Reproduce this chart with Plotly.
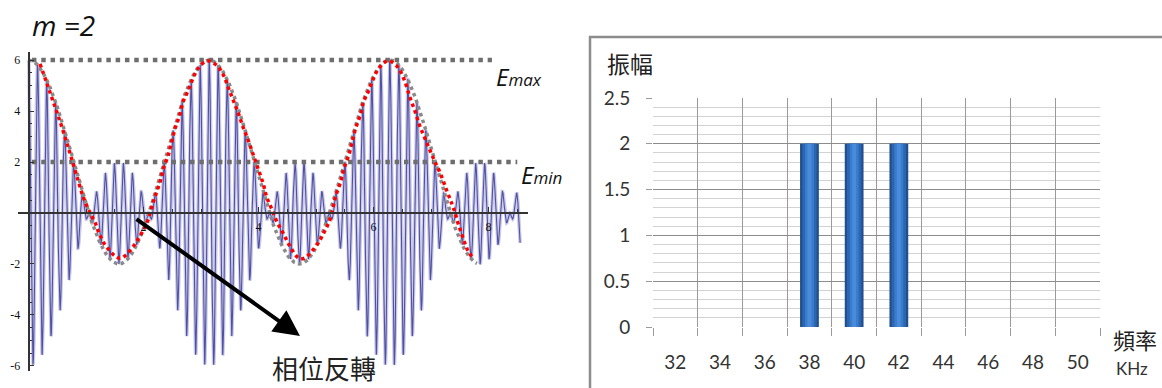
import numpy as np
import plotly.graph_objects as go

# ---------------- data ----------------
# spectrum (right chart)
freq_labels = ["32", "34", "36", "38", "40", "42", "44", "46", "48", "50"]
freq_khz = [32, 34, 36, 38, 40, 42, 44, 46, 48, 50]
amplitude = [0, 0, 0, 2, 2, 2, 0, 0, 0, 0]
amp_tickvals = [0, 0.5, 1, 1.5, 2, 2.5]
amp_ticktext = ["0", "0.5", "1", "1.5", "2", "2.5"]

# time waveform (left chart)
t_tickvals = [2, 4, 6, 8]
t_ticktext = ["2", "4", "6", "8"]
e_tickvals = [-6, -4, -2, 2, 4, 6]
e_ticktext = ["-6", "-4", "-2", "2", "4", "6"]
t_signal_end = 8.55
t_envelope_end = 7.80
E_max = 6
E_min = 2

# red dotted envelope sketch
red_t = [0.20, 0.31, 0.42, 0.54, 0.66, 0.74, 0.86, 0.95, 1.04, 1.10, 1.16, 1.21, 1.27, 1.33,
         1.42, 1.50, 1.59, 1.68, 1.77, 1.86, 1.94, 2.03, 2.08, 2.14, 2.20, 2.29, 2.34, 2.43,
         2.49, 2.55, 2.63, 2.69, 2.78, 2.86, 2.95, 3.10, 3.27, 3.39, 3.47, 3.56, 3.65, 3.73,
         3.82, 3.91, 3.99, 4.08, 4.14, 4.23, 4.32, 4.43, 4.55, 4.69, 4.75, 4.81, 4.90, 4.99,
         5.07, 5.13, 5.19, 5.24, 5.30, 5.34, 5.43, 5.48, 5.57, 5.63, 5.69, 5.77, 5.83, 5.92,
         6.00, 6.09, 6.25, 6.41, 6.53, 6.63, 6.72, 6.80, 6.89, 6.98, 7.07, 7.16, 7.27, 7.36,
         7.42, 7.47, 7.53, 7.59, 7.65, 7.74]
red_v = [5.85, 5.15, 4.43, 3.65, 2.80, 2.21, 1.29, 0.64, 0.15, -0.12, -0.38, -0.70, -1.00, -1.25,
         -1.50, -1.68, -1.78, -1.68, -1.47, -1.19, -0.90, -0.54, -0.27, 0.20, 0.64, 1.23, 1.70, 2.27,
         2.80, 3.32, 3.84, 4.37, 4.82, 5.28, 5.67, 5.97, 5.80, 5.41, 4.95, 4.43, 3.91, 3.38,
         2.86, 2.27, 1.75, 1.16, 0.64, 0.15, -0.34, -0.80, -1.32, -1.76, -1.80, -1.76, -1.58, -1.32,
         -1.06, -0.80, -0.54, -0.27, 0.25, 0.64, 1.23, 1.70, 2.27, 2.80, 3.32, 3.84, 4.37, 4.82,
         5.28, 5.67, 5.97, 5.75, 5.25, 4.56, 4.00, 3.45, 2.95, 2.47, 2.00, 1.57, 0.90, 0.38,
         0.00, -0.40, -0.80, -1.19, -1.52, -1.78]

# ---------------- derived waveform from spectrum ----------------
t = np.linspace(0, t_signal_end, 4000)
signal = np.zeros_like(t)
for f, a in zip(freq_khz, amplitude):
    if a:
        signal += a * np.cos(f * t)
nz = [f for f, a in zip(freq_khz, amplitude) if a]
f_c = nz[len(nz) // 2]
t_env = np.linspace(0, t_envelope_end, 800)
envelope = np.zeros_like(t_env)
for f, a in zip(freq_khz, amplitude):
    if a:
        envelope += a * np.cos((f - f_c) * t_env)

W, H = 1162, 388
def px(x):
    return x / W
def py(y):
    return (H - y) / H

X0, XS = 28.5, 57.5   # pixel of t=0 and pixels per unit (left chart)

fig = go.Figure()

# waveform
fig.add_trace(go.Scatter(x=t, y=signal, mode="lines", xaxis="x", yaxis="y",
                         line=dict(color="rgba(125,125,200,0.40)", width=3.6), hoverinfo="skip"))
fig.add_trace(go.Scatter(x=t, y=signal, mode="lines", xaxis="x", yaxis="y",
                         line=dict(color="rgba(60,60,150,0.85)", width=1.1), hoverinfo="skip"))
# Emax / Emin dotted reference lines
fig.add_trace(go.Scatter(x=[0.06, 8.06], y=[E_max, E_max], mode="lines", xaxis="x", yaxis="y",
                         line=dict(color="#6e6e6e", width=4.5, dash="4.5px,4.8px"), hoverinfo="skip"))
fig.add_trace(go.Scatter(x=[0.06, 8.50], y=[E_min, E_min], mode="lines", xaxis="x", yaxis="y",
                         line=dict(color="#6e6e6e", width=4.5, dash="4.5px,4.8px"), hoverinfo="skip"))
# gray envelope
fig.add_trace(go.Scatter(x=t_env, y=envelope, mode="lines", xaxis="x", yaxis="y",
                         line=dict(color="#8a8a8a", width=3.5, dash="3.5px,3.5px"), hoverinfo="skip"))
# red sketch envelope
fig.add_trace(go.Scatter(x=red_t, y=red_v, mode="lines", xaxis="x", yaxis="y",
                         line=dict(color="#ff0000", width=3.5, dash="3.5px,3.5px", shape="spline"),
                         hoverinfo="skip"))

# spectrum bars (layered to imitate a cylinder gradient)
for wdt, col in [(0.42, "#1f4f8e"), (0.32, "#2c66b0"), (0.20, "#3a7ccc"), (0.09, "#4a8cdb")]:
    fig.add_trace(go.Bar(x=freq_labels, y=amplitude, width=wdt, xaxis="x2", yaxis="y2",
                         marker=dict(color=col, line=dict(width=0)), hoverinfo="skip"))

fig.update_layout(
    width=W, height=H, margin=dict(l=0, r=0, t=0, b=0, autoexpand=False),
    paper_bgcolor="white", plot_bgcolor="rgba(0,0,0,0)",
    showlegend=False, barmode="overlay",
    xaxis=dict(domain=[px(18), px(528)], range=[(18 - X0) / XS, (528 - X0) / XS],
               anchor="free", position=(H - 213) / H, automargin=False,
               showline=True, linecolor="#333", linewidth=1.5,
               ticks="inside", ticklen=5, tickwidth=1.2, tickcolor="#333",
               tickvals=t_tickvals, ticktext=t_ticktext, ticklabelstandoff=3,
               minor=dict(dtick=0.5, ticks="inside", ticklen=3, tickcolor="#333"),
               showgrid=False, zeroline=False,
               tickfont=dict(family="Liberation Serif", size=12, color="#111")),
    yaxis=dict(domain=[17 / H, (H - 52.4) / H], range=[-6.2, 6.3],
               anchor="free", position=px(X0), automargin=False,
               showline=True, linecolor="#333", linewidth=1.5,
               ticks="inside", ticklen=5, tickwidth=1.2, tickcolor="#333",
               tickvals=e_tickvals, ticktext=e_ticktext, ticklabelstandoff=5,
               minor=dict(dtick=0.5, ticks="inside", ticklen=3, tickcolor="#333"),
               showgrid=False, zeroline=False,
               tickfont=dict(family="Liberation Serif", size=12, color="#111")),
    xaxis2=dict(domain=[px(653), px(1100)], anchor="y2", type="category", automargin=False,
                tickson="boundaries", ticks="outside", ticklen=8, tickcolor="#9a9a9a",
                showgrid=True, gridcolor="#9a9a9a", gridwidth=1, showline=False,
                ticklabelstandoff=22, zeroline=False,
                tickfont=dict(family="Lato", size=19, color="#333")),
    yaxis2=dict(domain=[py(327), py(98)], anchor="x2", range=[0, 2.5], automargin=False,
                tickvals=amp_tickvals, ticktext=amp_ticktext,
                ticks="outside", ticklen=6, tickcolor="#9a9a9a",
                showgrid=True, gridcolor="#8c8c8c", gridwidth=1, zeroline=False, showline=False,
                minor=dict(dtick=0.1, showgrid=True, gridcolor="#d2d2d2", gridwidth=1),
                ticklabelstandoff=12,
                tickfont=dict(family="Lato", size=19, color="#333")),
)

# frame around spectrum chart
fig.add_shape(type="rect", xref="paper", yref="paper",
              x0=px(590), x1=1.02, y0=-0.05, y1=py(37),
              line=dict(color="#8c8c8c", width=2.5), fillcolor="rgba(0,0,0,0)", layer="below")

ann = []
ann.append(dict(text="<i>m =2</i>", x=px(30), y=py(25), xanchor="left", yanchor="middle",
                font=dict(family="Open Sans", size=28, color="#111")))
ann.append(dict(text="<i>E<span style='font-size:17px'>max</span></i>", x=px(494), y=py(77),
                xanchor="left", yanchor="middle", font=dict(family="Open Sans", size=24, color="#111")))
ann.append(dict(text="<i>E<span style='font-size:17px'>min</span></i>", x=px(519), y=py(175),
                xanchor="left", yanchor="middle", font=dict(family="Open Sans", size=24, color="#111")))
ann.append(dict(text="相位反轉", x=px(324), y=py(367), xanchor="center", yanchor="middle",
                font=dict(family="Noto Sans CJK TC", size=26, color="#222")))
ann.append(dict(text="振幅", x=px(605), y=py(63), xanchor="left", yanchor="middle",
                font=dict(family="Noto Sans CJK TC", size=23, color="#222")))
ann.append(dict(text="頻率", x=px(1111), y=py(339), xanchor="left", yanchor="middle",
                font=dict(family="Noto Sans CJK TC", size=22, color="#222")))
ann.append(dict(text="KHz", x=px(1114), y=py(368), xanchor="left", yanchor="middle",
                font=dict(family="Lato", size=17, color="#333")))
for a in ann:
    a.update(xref="paper", yref="paper", showarrow=False)
# arrow (tail offset in pixels)
ann.append(dict(text="", xref="paper", yref="paper", axref="pixel", ayref="pixel",
                x=px(300), y=py(336), ax=135 - 300, ay=218 - 336, showarrow=True,
                arrowhead=2, arrowsize=1.3, arrowwidth=4, arrowcolor="black", standoff=0))
fig.update_layout(annotations=ann)

fig.write_html("out.html")
